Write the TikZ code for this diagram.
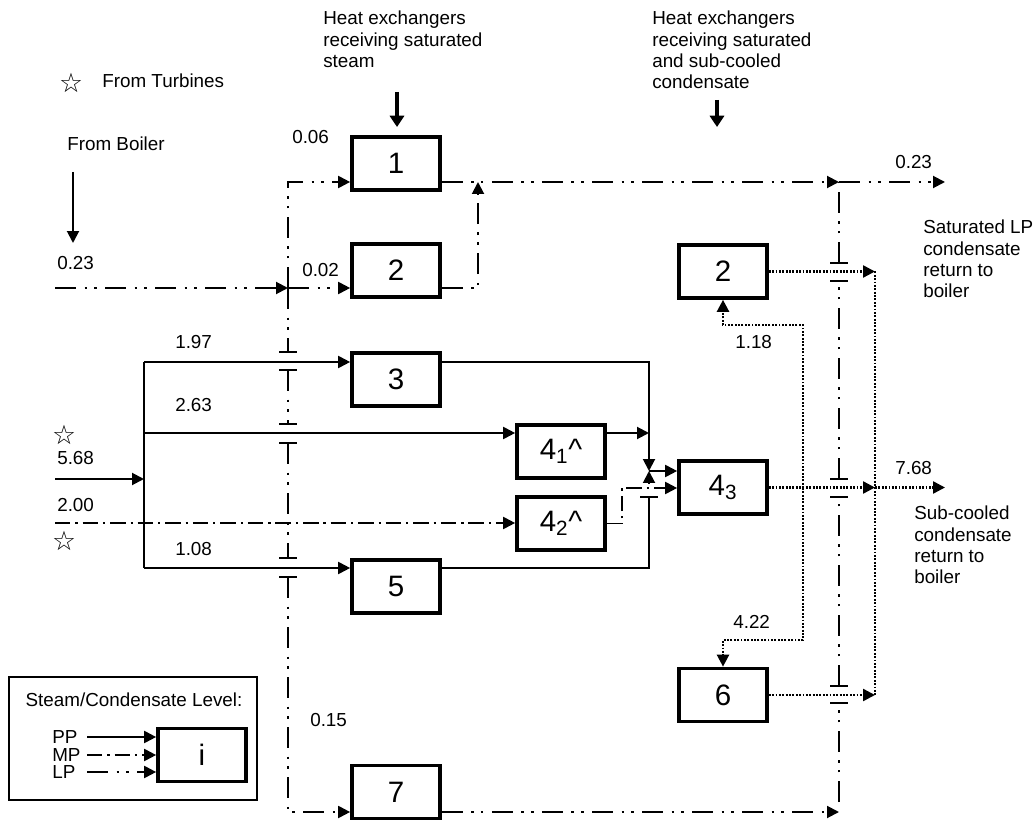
\documentclass[tikz,border=0pt]{standalone}
\usepackage{fontspec}
\setmainfont{Liberation Sans}
\newfontfamily\starfont{DejaVu Sans}
\usetikzlibrary{arrows.meta}

\begin{document}
\begin{tikzpicture}[x=0.025cm,y=-0.025cm,
  hx/.style={draw,line width=2.6pt,minimum width=2.2cm,minimum height=1.325cm,
             inner sep=0pt,font=\fontsize{21}{24}\selectfont},
  lb/.style={inner sep=0pt,anchor=west,font=\fontsize{13.4}{15}\selectfont},
  txt/.style={inner sep=0pt,anchor=north west,align=left,font=\fontsize{13.4}{15}\selectfont},
  st/.style={inner sep=0pt,font=\starfont\fontsize{19}{19}\selectfont},
  ah/.style={-{Triangle[length=8.5pt,width=8.5pt]}},
  pp/.style={line width=1.4pt},
  mp/.style={line width=1.4pt,dash pattern=on 11pt off 3.5pt on 1.6pt off 3.5pt},
  lp/.style={line width=1.4pt,dash pattern=on 15pt off 6pt on 1.8pt off 5pt on 1.8pt off 6pt},
  cd/.style={line width=1.7pt,dash pattern=on 1.3pt off 1.1pt},
  hd/.style={line width=2.8pt,-{Triangle[length=8pt,width=10pt]}},
  jb/.style={line width=1.4pt},
]
\useasboundingbox (0,0) rectangle (1034,820);
% ============ heat exchangers ============
\node[hx] (b1) at (396,163.5) {1};
\node[hx] (b2) at (396,270.5) {2};
\node[hx] (b3) at (396,379.5) {3};
\node[hx] (b41) at (561,451.5) {4\textsubscript{1}\textasciicircum};
\node[hx] (b42) at (561,523.5) {4\textsubscript{2}\textasciicircum};
\node[hx] (b5) at (396,586.5) {5};
\node[hx] (b7) at (396,792) {7};
\node[hx] (c2) at (723,271.5) {2};
\node[hx] (c43) at (723,487.5) {4\textsubscript{3}};
\node[hx] (c6) at (723,695) {6};
% ============ texts ============
\node[txt] (t1) at (323,11) {Heat exchangers\\receiving saturated\\steam};
\node[txt] (t2) at (652,11) {Heat exchangers\\receiving saturated\\and sub-cooled\\condensate};
\node[txt] (t3) at (923,220) {Saturated LP\\condensate\\return to\\boiler};
\node[txt] (t4) at (914,506) {Sub-cooled\\condensate\\return to\\boiler};
\node[st] (s1) at (71,83) {☆};
\node[st] (s2) at (64,435) {☆};
\node[st] (s3) at (64,541) {☆};
\node[lb] (turb) at (102,81) {From Turbines};
\node[lb] (boil) at (67,144) {From Boiler};
\node[lb] (v1) at (57,263) {0.23};
\node[lb] (v2) at (292,137) {0.06};
\node[lb] (v3) at (302,270) {0.02};
\node[lb] (v4) at (175,342) {1.97};
\node[lb] (v5) at (175,405) {2.63};
\node[lb] (v6) at (57,458) {5.68};
\node[lb] (v7) at (57,505) {2.00};
\node[lb] (v8) at (175,549) {1.08};
\node[lb] (v9) at (310,720) {0.15};
\node[lb] (v10) at (895,162) {0.23};
\node[lb] (v11) at (735,342) {1.18};
\node[lb] (v12) at (733,622) {4.22};
\node[lb] (v13) at (895,468) {7.68};
% ============ junctions ============
\coordinate (h1a) at (397,92);  \coordinate (h1b) at (397,127);
\coordinate (h2a) at (717,100); \coordinate (h2b) at (717,127);
\coordinate (fb) at (73,172);   \coordinate (fb2) at (73,243);
\coordinate (bIn) at (55,288);  \coordinate (jB) at (288,288);
\coordinate (lTop) at (288,182); \coordinate (lBot) at (288,812);
\coordinate (rTop) at (839,182); \coordinate (rBot) at (839,812);
\coordinate (out1) at (945,182); \coordinate (m2) at (478,182);
\coordinate (tIn) at (55,479);
\coordinate (bus3) at (144,362); \coordinate (bus4) at (144,433); \coordinate (bus5) at (144,568);
\coordinate (mIn) at (55,523);
\coordinate (jn) at (649,471); \coordinate (jg) at (649,484); \coordinate (j5) at (649,497);
\coordinate (m42) at (622,488);
\coordinate (dR) at (875,272); \coordinate (out2) at (945,488);
\coordinate (sp) at (803,488); \coordinate (k1) at (803,325); \coordinate (k2) at (803,640);
% ============ headings ============
\draw[hd] (h1a) -- (h1b);
\draw[hd] (h2a) -- (h2b);
\draw[pp,ah] (fb) -- (fb2);
% ============ LP steam / condensate ============
\draw[lp,ah] (bIn) -- (jB);
\draw[lp,ah] (jB) -- (jB -| b2.west);
\draw[lp,ah] (jB) -- (lTop) -- (lTop -| b1.west);
\draw[lp] (jB) -- (288,352);
\draw[lp] (288,370) -- (288,424);
\draw[lp] (288,443) -- (288,558);
\draw[lp,ah] (288,577) -- (lBot) -- (lBot -| b7.west);
\foreach \yy in {352,370,424,443,558,577}
  \draw[jb] (279,\yy) -- (297,\yy);
\draw[lp,ah] (lTop -| b1.east) -- (rTop);
\draw[lp,ah] (jB -| b2.east) -| (m2);
\draw[lp,ah] (rTop) -- (out1);
\draw[lp,ah] (lBot -| b7.east) -- (rBot);
\draw[lp] (839,802) -- (839,703);
\draw[lp] (839,686) -- (839,497);
\draw[lp] (839,479) -- (839,281);
\draw[lp] (839,263) -- (rTop);
\foreach \yy in {263,281,479,497,686,703}
  \draw[jb] (830,\yy) -- (848,\yy);
% ============ PP steam ============
\draw[pp,ah] (tIn) -- (tIn -| bus3);
\draw[pp] (bus3) -- (bus5);
\draw[pp,ah] (bus3) -- (bus3 -| b3.west);
\draw[pp,ah] (bus4) -- (bus4 -| b41.west);
\draw[pp,ah] (bus5) -- (bus5 -| b5.west);
\draw[pp,ah] (bus3 -| b3.east) -| (jn);
\draw[pp,ah] (bus4 -| b41.east) -- (bus4 -| jn);
\draw[pp] (bus5 -| b5.east) -| (j5);
\draw[jb] (640,497) -- (658,497);
\draw[pp,ah] (jg) -- (jn);
\draw[pp,ah] (jn) -- (jn -| c43.west);
% ============ MP steam ============
\draw[mp,ah] (mIn) -- (mIn -| b42.west);
\draw[mp,ah] (b42.east) -| (m42) -- (m42 -| c43.west);
% ============ sub-cooled condensate ============
\draw[cd,ah] (c2.east) -- (c2.east -| dR);
\draw[cd] (c2.east -| dR) -- (c6.east -| dR);
\draw[cd,ah] (c43.east) -- (c43.east -| dR);
\draw[cd,ah] (c43.east -| dR) -- (c43.east -| out2);
\draw[cd,ah] (c6.east) -- (c6.east -| dR);
\draw[cd,ah] (sp) -- (k1) -| (c2.south);
\draw[cd,ah] (sp) -- (k2) -| (c6.north);
% ============ legend ============
\node[draw,line width=0.8pt,minimum width=6.2cm,minimum height=3.075cm] (leg) at (133,738.5) {};
\node[lb,anchor=center] (lgt) at (134,700) {Steam/Condensate Level:};
\node[hx] (li) at (202,755) {i};
\node[lb] (lpp) at (52,737) {PP};
\node[lb] (lmp) at (52,755) {MP};
\node[lb] (llp) at (52,772) {LP};
\coordinate (lx) at (87,0);
\draw[pp,ah] (lpp -| lx) -- (lpp -| li.west);
\draw[mp,ah] (lmp -| lx) -- (lmp -| li.west);
\draw[lp,ah] (llp -| lx) -- (llp -| li.west);
\end{tikzpicture}
\end{document}
